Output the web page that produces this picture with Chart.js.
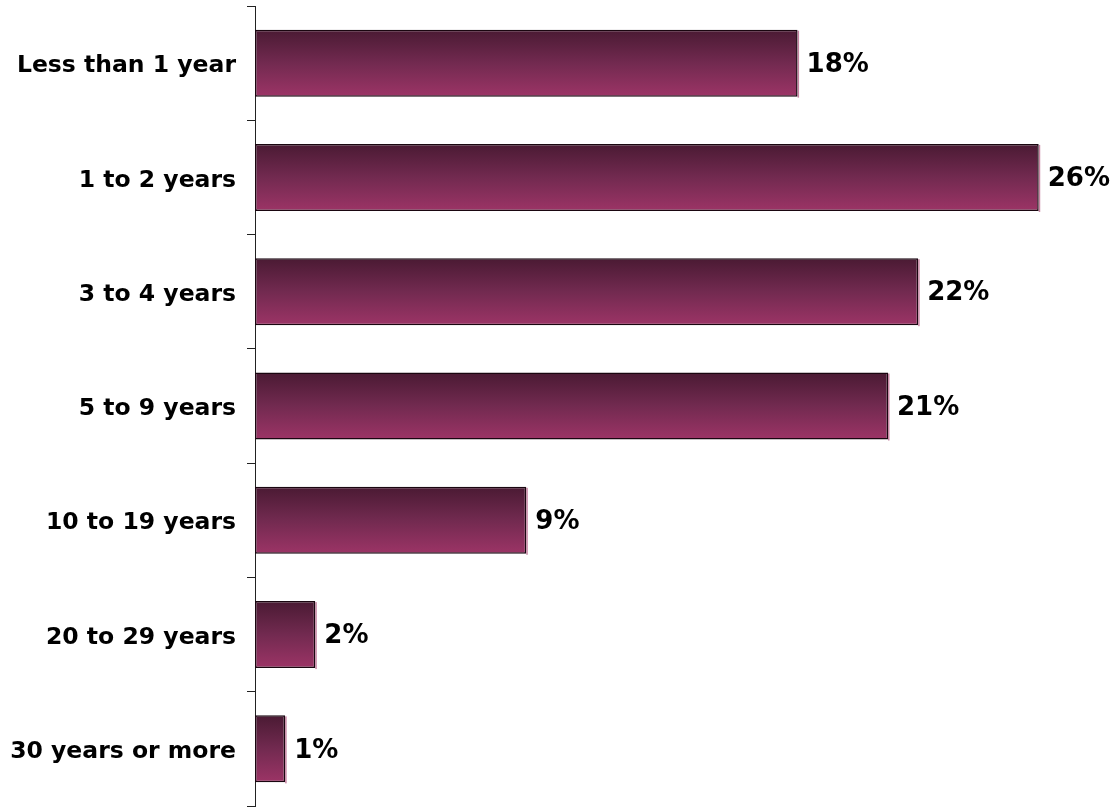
<!DOCTYPE html>
<html>
<head>
<meta charset="utf-8">
<script src="https://cdn.jsdelivr.net/npm/chart.js@4/dist/chart.umd.min.js"></script>
<style>
html,body{margin:0;padding:0;background:#fff;}
#wrap{width:1115px;height:809px;position:relative;}
</style>
</head>
<body>
<div id="wrap"><canvas id="c" width="1115" height="809"></canvas></div>
<script>
const categories = ["Less than 1 year","1 to 2 years","3 to 4 years","5 to 9 years","10 to 19 years","20 to 29 years","30 years or more"];
const values = [18, 26, 22, 21, 9, 2, 1];
const valueLabels = ["18%","26%","22%","21%","9%","2%","1%"];

const BAR_PCT = 0.586;
const LABEL_FONT = "'DejaVu Sans', Verdana, sans-serif";
const VALUE_FONT = "'DejaVu Sans', Verdana, sans-serif";

function barGradient(ctx) {
  const chart = ctx.chart;
  const y = chart.scales && chart.scales.y;
  if (!y || ctx.dataIndex === undefined) return '#7a2a52';
  const c = y.getPixelForValue(ctx.dataIndex);
  const h = (y.height / categories.length) * BAR_PCT;
  if (!isFinite(c) || !isFinite(h) || h <= 0) return '#7a2a52';
  const g = chart.ctx.createLinearGradient(0, c - h / 2, 0, c + h / 2);
  g.addColorStop(0, '#4a1a33');
  g.addColorStop(0.5, '#722a50');
  g.addColorStop(1, '#9c3466');
  return g;
}

const shadowPlugin = {
  id: 'barShadow',
  beforeDatasetsDraw(chart) {
    const meta = chart.getDatasetMeta(0);
    const ctx = chart.ctx;
    ctx.save();
    ctx.fillStyle = 'rgba(160,50,100,0.6)';
    meta.data.forEach((bar) => {
      const top = bar.y - bar.height / 2;
      ctx.fillRect(bar.x, top + 1, 1.5, bar.height);
    });
    ctx.restore();
  }
};

const valueLabelPlugin = {
  id: 'valueLabels',
  afterDatasetsDraw(chart) {
    const meta = chart.getDatasetMeta(0);
    const ctx = chart.ctx;
    ctx.save();
    ctx.font = "bold 26px " + VALUE_FONT;
    ctx.fillStyle = '#000';
    ctx.textAlign = 'left';
    ctx.textBaseline = 'middle';
    meta.data.forEach((bar, i) => {
      ctx.fillText(valueLabels[i], bar.x + 9, bar.y + 2);
    });
    ctx.restore();
  }
};

const chart = new Chart(document.getElementById('c'), {
  type: 'bar',
  data: {
    labels: categories,
    datasets: [{
      data: values,
      backgroundColor: barGradient,
      borderColor: '#1a0610',
      borderWidth: 1.5,
      borderSkipped: false,
      categoryPercentage: 1,
      barPercentage: BAR_PCT
    }]
  },
  options: {
    indexAxis: 'y',
    responsive: false,
    animation: false,
    layout: { padding: { left: 0, right: 16, top: 6, bottom: 3 } },
    plugins: { legend: { display: false }, tooltip: { enabled: false } },
    scales: {
      x: { display: false, min: 0, max: 28 },
      y: {
        afterFit(scale) { scale.width = 255; scale.paddingTop = 0; scale.paddingBottom = 0; },
        border: { display: true, color: '#222', width: 1 },
        grid: { display: true, drawOnChartArea: false, drawTicks: true, tickLength: 8, color: '#222', offset: true },
        ticks: { color: '#000', padding: 11, labelOffset: 3, font: { family: LABEL_FONT, size: 23.5, weight: 'bold' } }
      }
    }
  },
  plugins: [shadowPlugin, valueLabelPlugin]
});
chart.update();
</script>
</body>
</html>
